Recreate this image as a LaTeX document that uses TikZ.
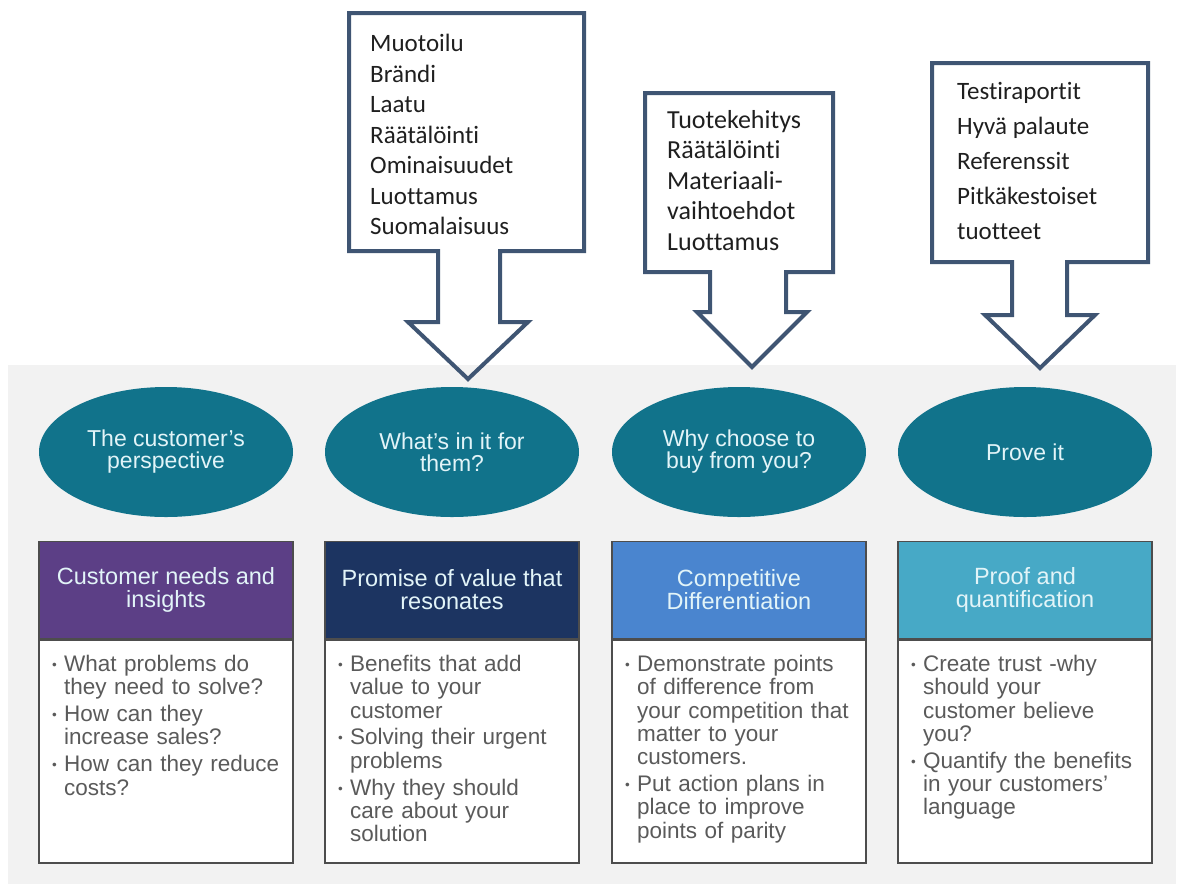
\documentclass[tikz,border=0pt]{standalone}
\usepackage{fontspec}
\setmainfont{Liberation Sans}
\newfontfamily\calibri[Ligatures=NoCommon]{Carlito}
\usetikzlibrary{shapes.geometric}

\definecolor{panelgray}{HTML}{F2F2F2}
\definecolor{calloutblue}{HTML}{3F5573}
\definecolor{ovalteal}{HTML}{11738B}
\definecolor{lighttext}{HTML}{E2F4F8}
\definecolor{headpurple}{HTML}{5C3F86}
\definecolor{headnavy}{HTML}{1C3461}
\definecolor{headblue}{HTML}{4A85CF}
\definecolor{headcyan}{HTML}{47A9C6}
\definecolor{bodygray}{HTML}{5A5A5A}
\definecolor{framegray}{HTML}{4D4D4D}

% one bullet point, lines broken by hand
\newcommand{\bitem}[1]{\par\noindent\makebox[12pt][l]{\raisebox{2pt}{\scalebox{0.6}{\textbullet}}}%
  \begin{tabular}[t]{@{}l@{}}#1\end{tabular}\par\vspace{2.5pt}}

\tikzset{
  callout/.style={draw=calloutblue, line width=4pt, line join=miter},
  calltext/.style={anchor=north west, inner sep=0pt, align=left, text=black!88},
  oval/.style={ellipse, fill=ovalteal, minimum width=254pt, minimum height=130pt,
    inner sep=0pt, align=center, text=lighttext, font=\fontsize{23}{22}\selectfont},
  head/.style={rectangle, draw=framegray, line width=1.6pt, minimum width=254pt,
    minimum height=97pt, inner sep=0pt, align=center, text=lighttext,
    font=\fontsize{23.5}{23}\selectfont},
  frame/.style={rectangle, draw=framegray, line width=1.6pt, fill=white,
    minimum width=254pt, minimum height=223pt, inner sep=0pt},
  bullets/.style={anchor=north west, inner sep=0pt, text width=240pt, text=bodygray,
    font=\fontsize{22.5}{23.3}\selectfont}
}

\begin{document}
\begin{tikzpicture}[x=1pt, y=-1pt]
  \useasboundingbox (0,0) rectangle (1183,884);
  \fill[panelgray] (8,365) rectangle (1176,884);

  % callouts with their arrows
  \draw[callout] (349,13) -- (584,13) -- (584,251) -- (500,251) -- (500,322) -- (528,322)
    -- (468,379) -- (408,322) -- (438,322) -- (438,251) -- (349,251) -- cycle;
  \draw[callout] (645,93) -- (833,93) -- (833,272) -- (786,272) -- (786,312) -- (807,312)
    -- (752,367) -- (697,312) -- (710,312) -- (710,272) -- (645,272) -- cycle;
  \draw[callout] (932,63) -- (1148,63) -- (1148,262) -- (1067,262) -- (1067,315) -- (1095,315)
    -- (1040,368) -- (985,315) -- (1012,315) -- (1012,262) -- (932,262) -- cycle;

  \node[calltext, font=\calibri\fontsize{25}{30.5}\selectfont] (c1) at (370,34)
    {Muotoilu\\Brändi\\Laatu\\Räätälöinti\\Ominaisuudet\\Luottamus\\Suomalaisuus};
  \node[calltext, font=\calibri\fontsize{26}{30.5}\selectfont] (c2) at (667,110)
    {Tuotekehitys\\Räätälöinti\\Materiaali-\\vaihtoehdot\\Luottamus};
  \node[calltext, font=\calibri\fontsize{25}{35}\selectfont] (c3) at (957,82)
    {Testiraportit\\Hyvä palaute\\Referenssit\\Pitkäkestoiset\\tuotteet};

  % questions
  \node[oval] (e1) at (166,452) {The customer’s\\perspective};
  \node[oval] (e2) at (452,452) {What’s in it for\\them?};
  \node[oval] (e3) at (739,452) {Why choose to\\buy from you?};
  \node[oval] (e4) at (1025,452) {Prove it};

  % boxes: frame first, then the coloured header on top
  \node[frame] (f1) at (166,751.5) {};
  \node[frame] (f2) at (452,751.5) {};
  \node[frame] (f3) at (739,751.5) {};
  \node[frame] (f4) at (1025,751.5) {};

  \node[head, fill=headpurple] (h1) at (166,590) {Customer needs and\\insights};
  \node[head, fill=headnavy] (h2) at (452,590) {Promise of value that\\resonates};
  \node[head, fill=headblue] (h3) at (739,590) {Competitive\\Differentiation};
  \node[head, fill=headcyan] (h4) at (1025,590) {Proof and\\quantification};

  \node[bullets] (b1) at (52,648) {%
    \bitem{What problems do\\they need to solve?}
    \bitem{How can they\\increase sales?}
    \bitem{How can they reduce\\costs?}};
  \node[bullets] (b2) at (338,648) {%
    \bitem{Benefits that add\\value to your\\customer}
    \bitem{Solving their urgent\\problems}
    \bitem{Why they should\\care about your\\solution}};
  \node[bullets] (b3) at (625,648) {%
    \bitem{Demonstrate points\\of difference from\\your competition that\\matter to your\\customers.}
    \bitem{Put action plans in\\place to improve\\points of parity}};
  \node[bullets] (b4) at (911,648) {%
    \bitem{Create trust -why\\should your\\customer believe\\you?}
    \bitem{Quantify the benefits\\in your customers’\\language}};
\end{tikzpicture}
\end{document}
